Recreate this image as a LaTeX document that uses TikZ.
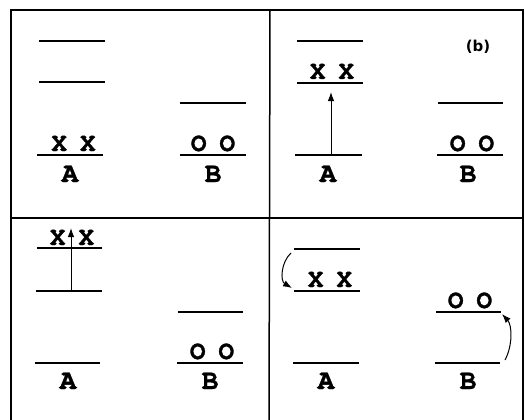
\documentclass[tikz,border=0pt]{standalone}
\usepackage{fontspec}
\usetikzlibrary{arrows.meta}
\newfontfamily\xfont[FakeBold=1.2]{texgyrecursor-bold.otf}
\newfontfamily\pfont{DejaVu Sans}
\newcommand\pair[2]{#1\hspace{13pt}#2}
\tikzset{
  lvl/.style={line width=1.4pt},
  frame/.style={line width=1.5pt},
  occ/.style={font=\xfont\fontsize{26}{26}\selectfont, anchor=base, inner sep=0pt},
  lab/.style={font=\xfont\fontsize{28}{28}\selectfont, anchor=base, inner sep=0pt},
  tag/.style={font=\pfont\bfseries\fontsize{15}{15}\selectfont, inner sep=0pt},
  arr/.style={line width=1pt, -{Latex[length=9pt,width=6.5pt]}},
}
\begin{document}
\begin{tikzpicture}[x=1pt,y=-1pt]
\useasboundingbox (0,0) rectangle (525,420);
% frame
\draw[frame] (11,425) -- (11,10) -- (523,10) -- (523,425);
\draw[frame] (270,10) -- (269,425);
\draw[frame] (11,218) -- (523,218);

% ---------- panel 1 ----------
\draw[lvl] (39,41) -- (105,41);
\draw[lvl] (39,82) -- (105,82);
\draw[lvl] (37,155) -- (103,155);
\node[occ] (x1) at (73.5,151) {\pair XX};
\node[lab] (a1) at (70,182) {A};
\draw[lvl] (180,103) -- (246,103);
\draw[lvl] (180,155) -- (246,155);
\node[occ] (o1) at (213,151) {\pair OO};
\node[lab] (b1) at (213,182) {B};

% ---------- panel 2 ----------
\draw[lvl] (297,41) -- (363,41);
\draw[lvl] (297,83) -- (363,83);
\draw[lvl] (295,155) -- (362,155);
\coordinate (p2s) at (331,155);
\coordinate (p2e) at (331,92);
\draw[arr] (p2s) -- (p2e);
\node[occ] (x2) at (332,79) {\pair XX};
\node[lab] (a2) at (328,182) {A};
\node[tag] (tb) at (478,47) {(b)};
\draw[lvl] (438,103) -- (503,103);
\draw[lvl] (437,155) -- (503,155);
\node[occ] (o2) at (472,151) {\pair OO};
\node[lab] (b2) at (468,182) {B};

% ---------- panel 3 ----------
\draw[lvl] (37,248) -- (102,248);
\draw[lvl] (36,291) -- (102,291);
\draw[lvl] (35,363) -- (100,363);
\node[occ] (x3) at (72,245) {\pair XX};
\coordinate (p3s) at (71,291);
\coordinate (p3e) at (71,228);
\draw[arr] (p3s) -- (p3e);
\node[lab] (a3) at (68,389) {A};
\draw[lvl] (178,312) -- (243,312);
\draw[lvl] (177,363) -- (243,363);
\node[occ] (o3) at (212,359) {\pair OO};
\node[lab] (b3) at (210,389) {B};

% ---------- panel 4 ----------
\draw[lvl] (294,249) -- (360,249);
\draw[lvl] (294,291) -- (360,291);
\draw[lvl] (293,363) -- (359,363);
\node[occ] (x4) at (330,287) {\pair XX};
\coordinate (c4s) at (291,253);
\coordinate (c4e) at (292,288);
\draw[arr] (c4s) .. controls (281,262) and (280,281) .. (c4e);
\node[lab] (a4) at (326,389) {A};
\draw[lvl] (436,312) -- (501,312);
\draw[lvl] (435,363) -- (500,363);
\node[occ] (o4) at (470,308) {\pair OO};
\coordinate (c5s) at (505,360);
\coordinate (c5e) at (502,314);
\draw[arr] (c5s) .. controls (513,345) and (512,325) .. (c5e);
\node[lab] (b4) at (468,389) {B};
\end{tikzpicture}
\end{document}
